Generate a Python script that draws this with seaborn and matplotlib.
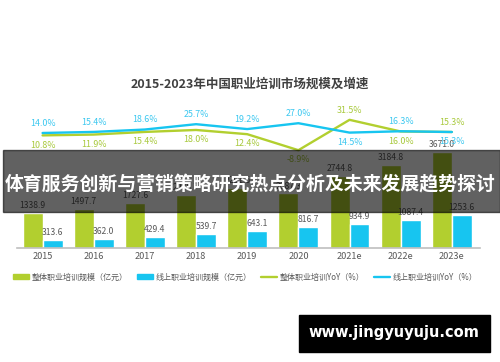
"""
2015-2023 China vocational training market size and growth.
Bars: overall / online market size (100M yuan); lines: YoY growth (%).
"""

import pandas as pd
import matplotlib.pyplot as plt
import matplotlib.patches as mpatches
from matplotlib.lines import Line2D
import seaborn as sns

# --- data ---
years = ['2015', '2016', '2017', '2018', '2019', '2020', '2021e', '2022e', '2023e']
overall_size = [1338.9, 1497.7, 1727.6, 2038.7, 2291.5, 2087.3, 2744.8, 3184.8, 3671.0]
online_size = [313.6, 362.0, 429.4, 539.7, 643.1, 816.7, 934.9, 1087.4, 1253.6]
overall_yoy = [10.8, 11.9, 15.4, 18.0, 12.4, -8.9, 31.5, 16.0, 15.3]
online_yoy = [14.0, 15.4, 18.6, 25.7, 19.2, 27.0, 14.5, 16.3, 15.3]
# label above (1) or below (-1) the point
overall_side = [-1, -1, -1, -1, -1, -1, 1, -1, 1]
online_side = [1, 1, 1, 1, 1, 1, -1, 1, -1]

series_names = ['整体职业培训规模（亿元）', '线上职业培训规模（亿元）',
                '整体职业培训YoY（%）', '线上职业培训YoY（%）']

GREEN = '#B2CF2F'
BLUE = '#17C5F0'
GREEN_TXT = '#A8C93C'
BLUE_TXT = '#3CC8F0'
GRAY = '#595959'

sns.set_theme(style='white')
plt.rcParams['font.family'] = ['Noto Sans CJK SC', 'DejaVu Sans']

bars = pd.DataFrame({
    'year': years * 2,
    'size': overall_size + online_size,
    'series': [series_names[0]] * len(years) + [series_names[1]] * len(years),
})

fig = plt.figure(figsize=(5, 3.62), dpi=100)
ax = fig.add_axes([0.034, 0.315, 0.926, 0.409])

sns.barplot(data=bars, x='year', y='size', hue='series',
            palette=[GREEN, BLUE], width=0.78, saturation=1,
            legend=False, ax=ax)
for cont in ax.containers:
    ax.bar_label(cont, fmt='%.1f', fontsize=6.2, color=GRAY, padding=2)

ax.set_ylim(0, 5660)
ax.set_xlim(-0.5, 8.55)
ax.set_xlabel('')
ax.set_ylabel('')
ax.set_yticks([])
ax.tick_params(axis='x', length=0, labelsize=6.6, labelcolor=GRAY, pad=3)
for s in ['top', 'right', 'left']:
    ax.spines[s].set_visible(False)
ax.spines['bottom'].set_color('#BFBFBF')
ax.spines['bottom'].set_linewidth(1.2)

# --- growth lines on a twin axis ---
ax2 = ax.twinx()
xs = list(range(len(years)))
sns.lineplot(x=xs, y=overall_yoy, color=GREEN, lw=1.7, ax=ax2)
sns.lineplot(x=xs, y=online_yoy, color=BLUE, lw=1.7, ax=ax2)
ax2.set_ylim(-139, 58)
ax2.set_xlim(-0.5, 8.55)
ax2.set_yticks([])
ax2.axis('off')

for x, v, side in zip(xs, overall_yoy, overall_side):
    ax2.annotate(f'{v:.1f}%', (x, v), xytext=(0, 7 * side), textcoords='offset points',
                 ha='center', va='center', fontsize=6.4, color=GREEN_TXT)
for x, v, side in zip(xs, online_yoy, online_side):
    ax2.annotate(f'{v:.1f}%', (x, v), xytext=(0, 7 * side), textcoords='offset points',
                 ha='center', va='center', fontsize=6.4, color=BLUE_TXT)

# --- title and legend ---
fig.text(0.5, 1 - 84 / 362, '2015-2023年中国职业培训市场规模及增速',
         ha='center', va='center', fontsize=9, fontweight='bold', color='#404040')

handles = [mpatches.Patch(color=GREEN), mpatches.Patch(color=BLUE),
           Line2D([], [], color=GREEN, lw=1.7), Line2D([], [], color=BLUE, lw=1.7)]
fig.legend(handles, series_names, loc='center', bbox_to_anchor=(0.49, 1 - 277 / 362),
           ncol=4, frameon=False, fontsize=5.8, labelcolor=GRAY,
           handlelength=2.0, handleheight=0.6, handletextpad=0.3, columnspacing=1.2)

# --- overlay banner ---
fig.patches.append(mpatches.Rectangle((0.006, 1 - 212 / 362), 0.994, 62 / 362,
                                      transform=fig.transFigure, color='black',
                                      alpha=0.62, zorder=5))
fig.text(0.5, 1 - 185 / 362, '体育服务创新与营销策略研究热点分析及未来发展趋势探讨',
         ha='center', va='center', fontsize=13.6, fontweight='bold', color='white', zorder=6)

# --- watermark ---
fig.patches.append(mpatches.Rectangle((299 / 500, 1 - 352 / 362), 191 / 500, 37 / 362,
                                      transform=fig.transFigure, color='black', zorder=5))
fig.text(394 / 500, 1 - 333 / 362, 'www.jingyuyuju.com', ha='center', va='center',
         fontsize=10.5, fontweight='bold', color='white', family='DejaVu Sans', zorder=6)

fig.savefig('out.png', dpi=100)
